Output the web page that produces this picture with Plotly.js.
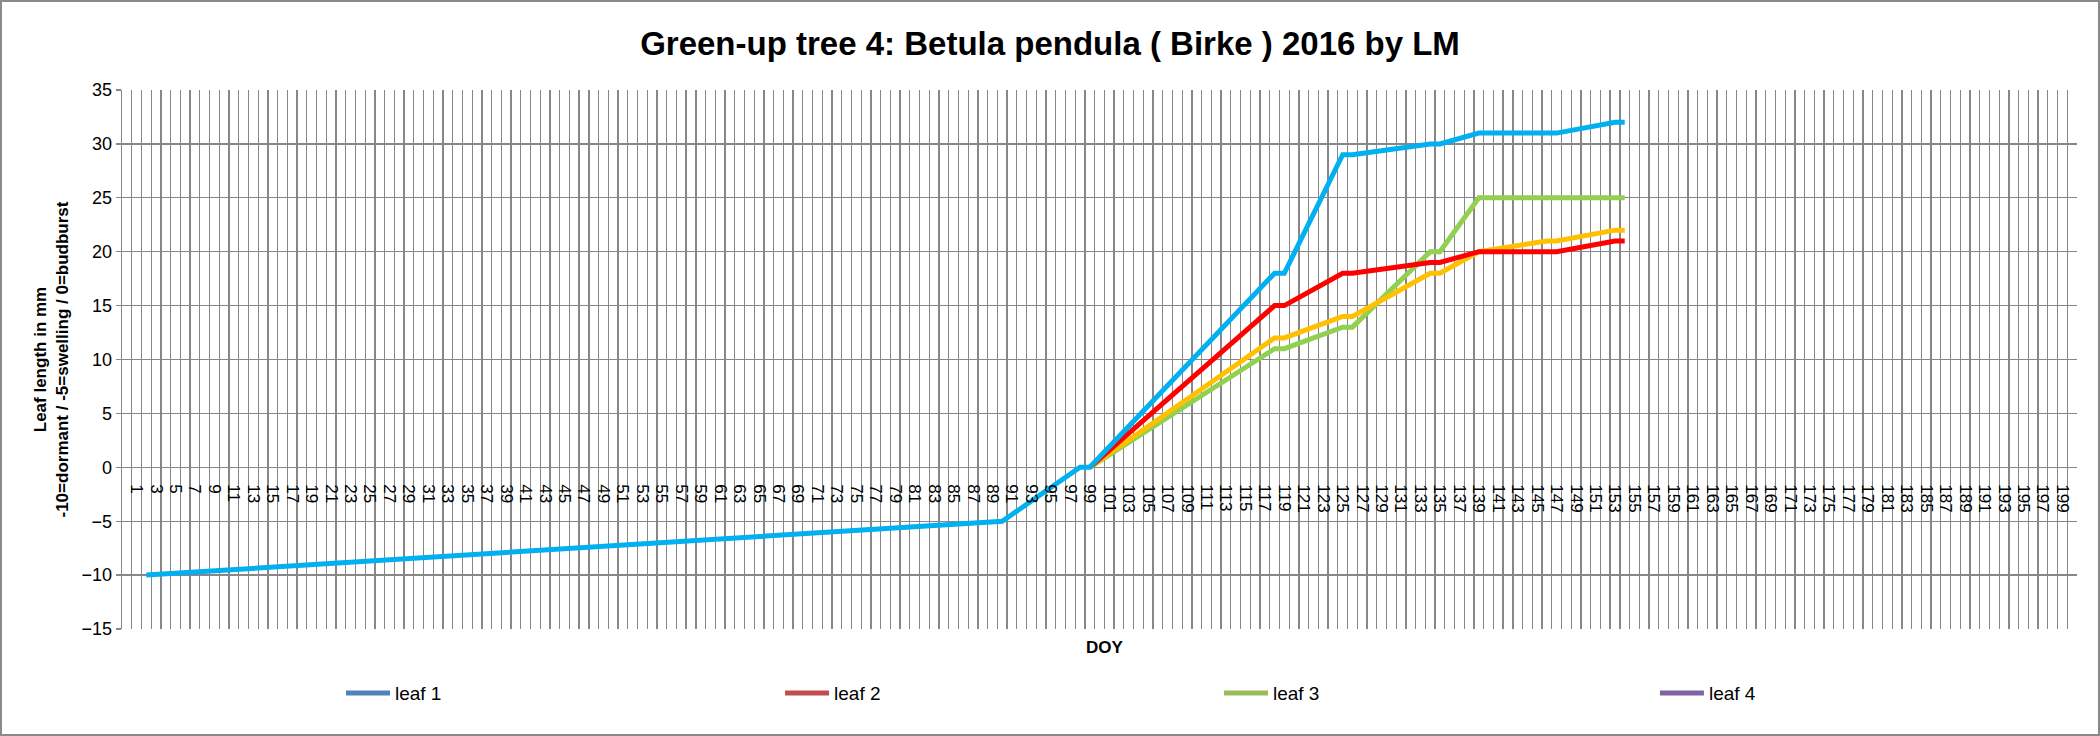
<!DOCTYPE html>
<html>
<head>
<meta charset="utf-8">
<script src="https://cdn.plot.ly/plotly-3.0.1.min.js"></script>
<style>
  body { margin: 0; background: #fff; }
  #wrap { position: relative; width: 2100px; height: 736px; }
  #chart { width: 2100px; height: 736px; }
  #frame { position: absolute; left: 0; top: 0; width: 2100px; height: 736px;
           box-sizing: border-box; border: 2px solid #8a8a8a; pointer-events: none; }
</style>
</head>
<body>
<div id="wrap">
  <div id="chart"></div>
  <div id="frame"></div>
</div>
<script>
// dormant / swelling phase (only the first leaf is visible there, the others sit underneath)
const dormantDoy = [2, 90, 98];
const dormantVal = [-10, -5, 0];

// observation days after budburst
const obsDoy = [99, 118, 119, 125, 126, 134, 135, 139, 146, 147, 153, 154];
const leaf1 = [0, 18, 18, 29, 29, 30, 30, 31, 31, 31, 32, 32];
const leaf2 = [0, 15, 15, 18, 18, 19, 19, 20, 20, 20, 21, 21];
const leaf3 = [0, 11, 11, 13, 13, 20, 20, 25, 25, 25, 25, 25];
const leafYellow = [0, 12, 12, 14, 14, 18, 18, 20, 21, 21, 22, 22];

// x axis categories 0..200, every 2nd one labelled starting at 1
const firstLabel = 1, lastLabel = 199;
var tickVals = [];
for (var d = firstLabel; d <= lastLabel; d += 2) tickVals.push(d);
var tickText = tickVals.map(String);

const legendNames = ['leaf 1', 'leaf 2', 'leaf 3', 'leaf 4'];
const legendColors = ['#4F81BD', '#C0504D', '#9BBB59', '#8064A2'];
const legendX = [0.112, 0.3366, 0.5611, 0.7841];

var gridCol = '#878787';
var font = 'Liberation Sans, Arial, sans-serif';

function line(x, y, color) {
  return {x: x, y: y, mode: 'lines', type: 'scatter', showlegend: false,
          hoverinfo: 'skip', line: {color: color, width: 5}};
}

var traces = [
  line(obsDoy, leaf3, '#92D050'),
  line(obsDoy, leafYellow, '#FFC000'),
  line(obsDoy, leaf2, '#FF0000'),
  line(dormantDoy.concat(obsDoy), dormantVal.concat(leaf1), '#00B0F0')
];

var layout = {
  width: 2100, height: 736,
  margin: {l: 122, r: 23, t: 90, b: 107},
  paper_bgcolor: '#fff', plot_bgcolor: '#fff',
  font: {family: font, color: '#000'},
  title: {text: '<b>Green-up tree 4: Betula pendula ( Birke ) 2016 by LM</b>',
          font: {size: 33, family: font}, x: 0.5, xref: 'container', xanchor: 'center',
          y: 1 - 43 / 736, yanchor: 'middle'},
  xaxis: {
    range: [-0.5, 200.5], anchor: 'free', position: 0.3,
    tickmode: 'array', tickvals: tickVals, ticktext: tickText,
    tickangle: 90, tickfont: {size: 17}, ticks: '', ticklabelstandoff: 16,
    showgrid: false, zeroline: false, showline: false,
    minor: {tickmode: 'linear', tick0: 0.5, dtick: 1, showgrid: true,
            gridcolor: gridCol, gridwidth: 1.3, ticks: ''}
  },
  yaxis: {
    range: [-15, 35], dtick: 5, tick0: 0,
    showgrid: true, gridcolor: gridCol, gridwidth: 1.3, zeroline: false,
    showline: true, linecolor: gridCol, linewidth: 1.3,
    ticks: 'outside', ticklen: 5, tickcolor: gridCol, tickwidth: 1.3,
    tickfont: {size: 18}
  },
  annotations: [
    {text: '<b>DOY</b>', xref: 'paper', yref: 'paper', x: 0.503, y: -18 / 539,
     xanchor: 'center', yanchor: 'middle', showarrow: false, font: {size: 17}},
    {text: '<b>Leaf length in mm<br>-10=dormant / -5=swelling / 0=budburst</b>',
     xref: 'paper', yref: 'paper', x: (51 - 122) / 1955, y: 0.5, textangle: -90,
     xanchor: 'center', yanchor: 'middle', showarrow: false, font: {size: 17}}
  ]
};

// legend keys (Excel kept the default theme colours there), one legend box per key
for (var i = 0; i < legendNames.length; i++) {
  var key = i === 0 ? 'legend' : 'legend' + (i + 1);
  traces.push({x: [null], y: [null], mode: 'lines', type: 'scatter',
               name: legendNames[i], legend: key,
               line: {color: legendColors[i], width: 5}});
  layout[key] = {orientation: 'h', x: legendX[i], xanchor: 'left', y: -0.119, yanchor: 'middle',
                 itemwidth: 44, font: {size: 19, family: font}, bgcolor: 'rgba(0,0,0,0)'};
}

Plotly.newPlot('chart', traces, layout, {displayModeBar: false, staticPlot: true});
</script>
</body>
</html>
